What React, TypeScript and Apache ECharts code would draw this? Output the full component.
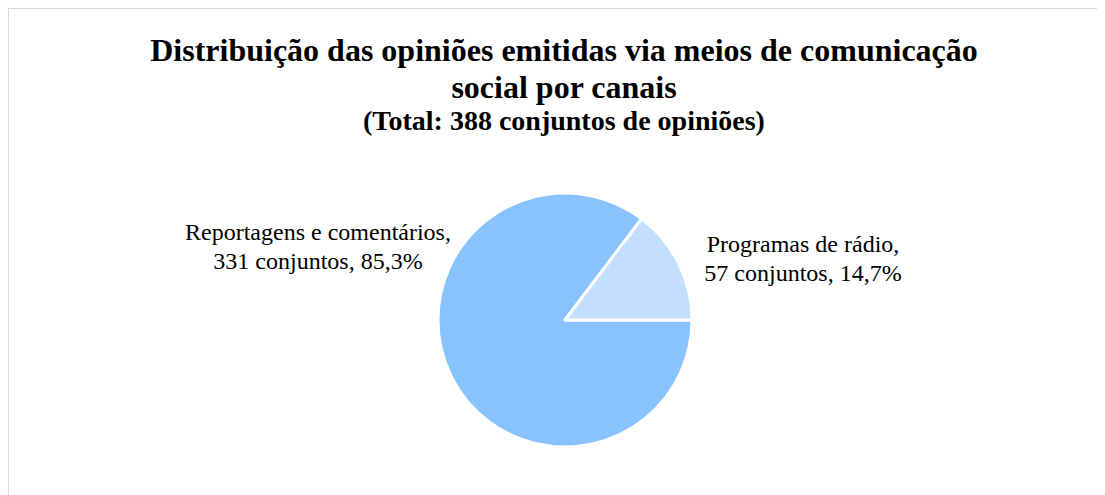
import React, { useEffect, useRef } from "react";
import * as echarts from "echarts";

const categories = ["Reportagens e comentários", "Programas de rádio"];
const values = [331, 57];
const colors = ["#88C2FF", "#C2DFFF"];
const titleText = "Distribuição das opiniões emitidas via meios de comunicação\nsocial por canais";
const subText = "(Total: 388 conjuntos de opiniões)";
const labelPos = [
  [309, 237],
  [794, 249],
];

export default function App() {
  const ref = useRef<HTMLDivElement>(null);
  useEffect(() => {
    if (!ref.current) return;
    const chart = echarts.init(ref.current, null, { renderer: "svg" });
    const total = values.reduce((a, b) => a + b, 0);
    chart.setOption({
      animation: false,
      backgroundColor: "#ffffff",
      title: {
        text: titleText,
        subtext: subText,
        left: 555,
        top: 22,
        padding: 0,
        itemGap: -1,
        textAlign: "center",
        textStyle: {
          fontFamily: "Liberation Serif",
          fontWeight: "bold",
          fontSize: 32,
          lineHeight: 37,
          color: "#000",
        },
        subtextStyle: {
          fontFamily: "Liberation Serif",
          fontWeight: "bold",
          fontSize: 28,
          lineHeight: 32,
          color: "#000",
        },
      },
      series: [
        {
          type: "pie",
          center: [556, 311],
          radius: 127,
          startAngle: 0,
          clockwise: true,
          itemStyle: { borderColor: "#ffffff", borderWidth: 3 },
          label: {
            show: true,
            position: "outside",
            fontFamily: "Liberation Serif",
            fontSize: 24,
            lineHeight: 29,
            color: "#000",
            align: "center",
            formatter: (p: any) =>
              `${p.name},\n${p.value} conjuntos, ${((p.value / total) * 100)
                .toFixed(1)
                .replace(".", ",")}%`,
          },
          labelLine: { show: false },
          labelLayout: (params: any) => ({
            x: labelPos[params.dataIndex][0],
            y: labelPos[params.dataIndex][1],
            align: "center",
            verticalAlign: "middle",
          }),
          data: categories.map((c, i) => ({
            name: c,
            value: values[i],
            itemStyle: { color: colors[i] },
          })),
        },
      ],
    });
    return () => chart.dispose();
  }, []);
  return (
    <div
      ref={ref}
      style={{
        width: 1096,
        height: 486,
        borderTop: "1px solid #d9d9d9",
        borderLeft: "1px solid #d9d9d9",
      }}
    />
  );
}
